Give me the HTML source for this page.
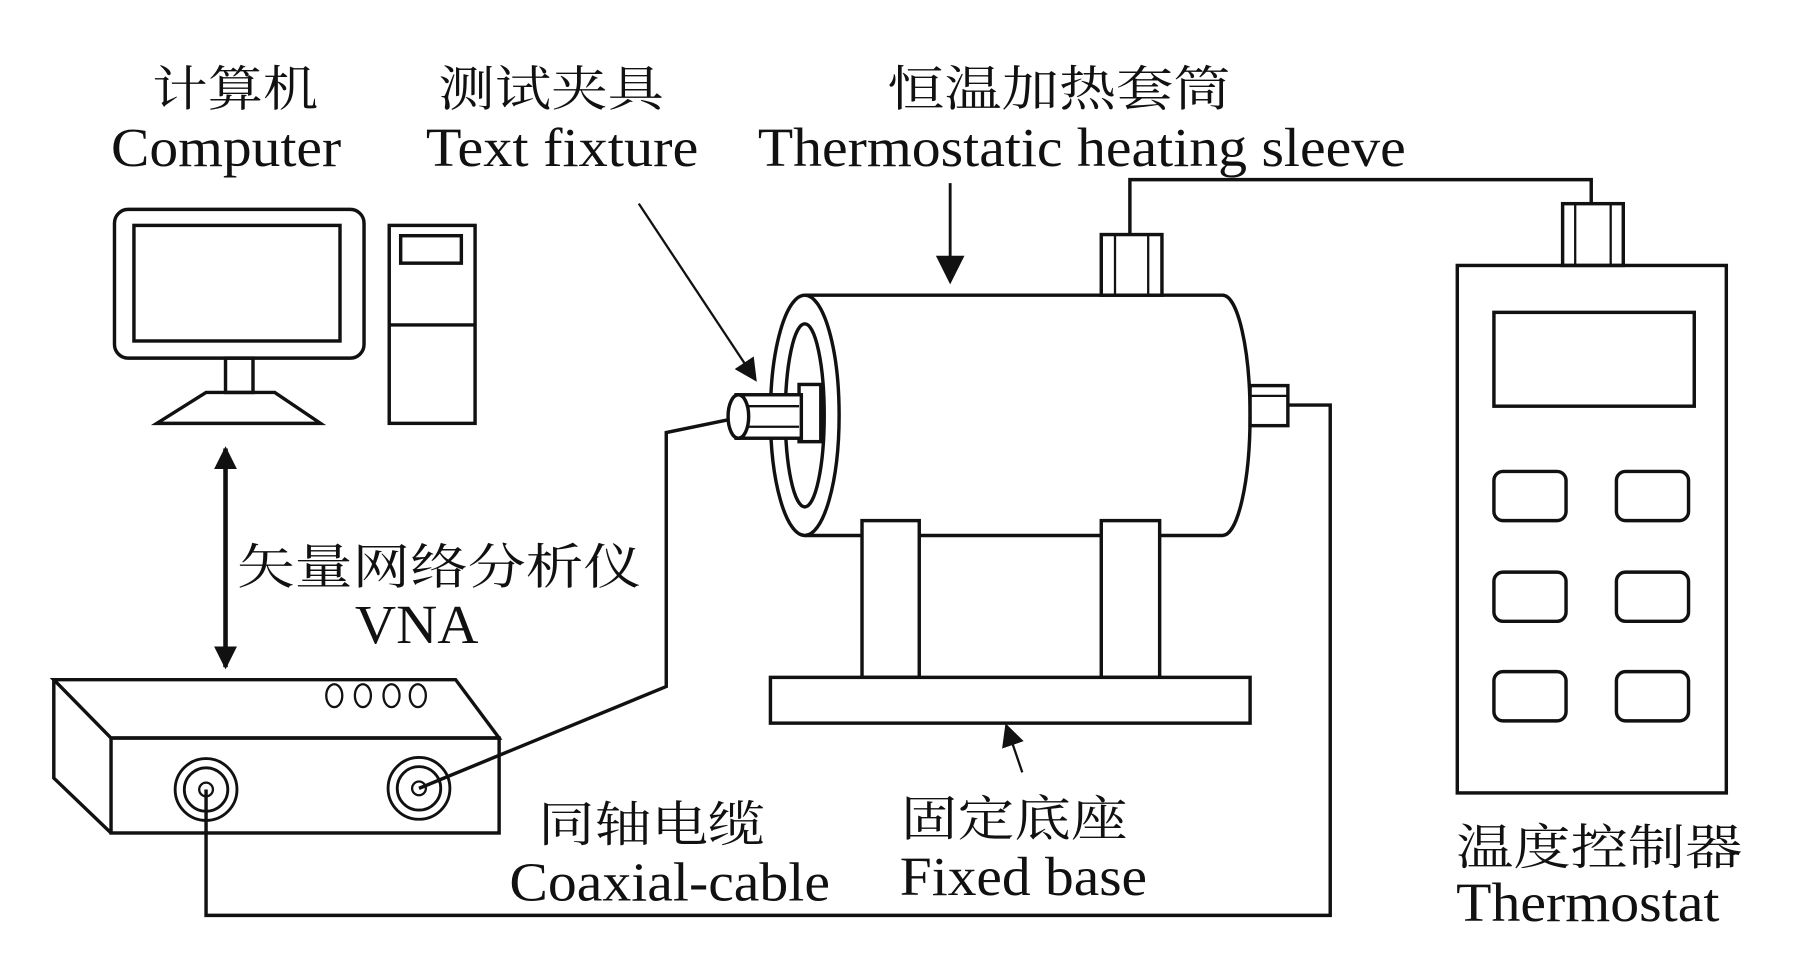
<!DOCTYPE html>
<html><head><meta charset="utf-8"><style>
html,body{margin:0;padding:0;background:#fff;}
svg{display:block;}
text{font-family:"Liberation Serif","Noto Serif CJK SC",serif;fill:#111;}
.cn{font-family:"Liberation Serif","Noto Serif CJK SC",serif;font-size:42px;}
.en{font-size:48px;}
</style></head><body>
<svg width="1795" height="968" viewBox="0 0 1568 846" preserveAspectRatio="none" xmlns="http://www.w3.org/2000/svg">
<defs>
<marker id="ah" viewBox="0 0 10 10" refX="9" refY="5" markerWidth="5" markerHeight="5" orient="auto-start-reverse"><path d="M0,0 L10,5 L0,10 z" fill="#111"/></marker>
<marker id="ah2" viewBox="0 0 10 10" refX="9" refY="5" markerWidth="10" markerHeight="10" orient="auto"><path d="M0,0 L10,5 L0,10 z" fill="#111"/></marker>
</defs>
<g fill="none" stroke="#111" stroke-width="3">
<rect x="100" y="183" width="218" height="130" rx="12"/>
<rect x="117" y="197" width="180" height="101"/>
<rect x="197" y="313" width="24" height="30"/>
<path d="M180,343 L240,343 L280,370 L137,370 Z"/>
<rect x="340" y="197" width="75" height="173"/>
<rect x="350" y="206" width="53" height="24"/>
<line x1="340" y1="284" x2="415" y2="284"/>
<line x1="197" y1="392" x2="197" y2="583" stroke-width="4" marker-start="url(#ah)" marker-end="url(#ah)"/>
<path d="M47,594 L398,594 L436,645 L97,645 Z"/>
<rect x="97" y="645" width="339" height="83"/>
<path d="M47,594 L47,680 L97,728"/>
<ellipse cx="292" cy="608" rx="7" ry="10" stroke-width="2"/>
<ellipse cx="317" cy="608" rx="7" ry="10" stroke-width="2"/>
<ellipse cx="342" cy="608" rx="7" ry="10" stroke-width="2"/>
<ellipse cx="365" cy="608" rx="7" ry="10" stroke-width="2"/>
<circle cx="180" cy="690" r="27" stroke-width="2.5"/><circle cx="180" cy="690" r="19" stroke-width="2.5"/><circle cx="180" cy="690" r="6" stroke-width="2"/>
<circle cx="366" cy="689" r="27" stroke-width="2.5"/><circle cx="366" cy="689" r="19" stroke-width="2.5"/><circle cx="366" cy="689" r="6" stroke-width="2"/>
<path d="M366,689 L582,600 L582,378 L645,365"/>
<path d="M180,690 L180,800 L1162,800 L1162,354 L1125,354"/>
<path d="M987,205 L987,157 L1390,157 L1390,178"/>
<path d="M703,258 L1068,258 A24,105 0 0 1 1068,468 L703,468"/>
<ellipse cx="703" cy="363" rx="30" ry="105" fill="#fff"/>
<ellipse cx="703" cy="363" rx="17" ry="80"/>
<rect x="698" y="336" width="19" height="50" fill="#fff"/>
<rect x="643" y="345" width="57" height="38" fill="#fff"/>
<line x1="650" y1="355" x2="698" y2="355" stroke-width="2"/>
<line x1="650" y1="373" x2="698" y2="373" stroke-width="2"/>
<ellipse cx="645" cy="364" rx="9" ry="19" fill="#fff"/>
<rect x="1092" y="337" width="33" height="35" fill="#fff"/>
<line x1="1092" y1="346" x2="1125" y2="346" stroke-width="2"/>
<rect x="962" y="205" width="53" height="53" fill="#fff"/>
<line x1="974" y1="205" x2="974" y2="258" stroke-width="2"/>
<line x1="1003" y1="205" x2="1003" y2="258" stroke-width="2"/>
<rect x="753" y="455" width="50" height="137" fill="#fff"/>
<rect x="962" y="455" width="51" height="137" fill="#fff"/>
<rect x="673" y="592" width="419" height="40" fill="#fff"/>
<rect x="1365" y="178" width="53" height="54"/>
<line x1="1376" y1="178" x2="1376" y2="232" stroke-width="2"/>
<line x1="1407" y1="178" x2="1407" y2="232" stroke-width="2"/>
<rect x="1273" y="232" width="235" height="461"/>
<rect x="1305" y="273" width="175" height="82"/>
<rect x="1305" y="412" width="63" height="43" rx="8"/><rect x="1412" y="412" width="63" height="43" rx="8"/>
<rect x="1305" y="500" width="63" height="43" rx="8"/><rect x="1412" y="500" width="63" height="43" rx="8"/>
<rect x="1305" y="587" width="63" height="43" rx="8"/><rect x="1412" y="587" width="63" height="43" rx="8"/>
<line x1="830" y1="160" x2="830" y2="246" stroke-width="2.5" marker-end="url(#ah2)"/>
<line x1="558" y1="178" x2="660" y2="332" stroke-width="2" marker-end="url(#ah2)"/>
<line x1="893" y1="675" x2="879" y2="634" stroke-width="2" marker-end="url(#ah2)"/>
</g>
<g>
<text class="cn" x="133" y="92" textLength="145" lengthAdjust="spacingAndGlyphs">计算机</text>
<text class="en" x="97" y="145" textLength="201" lengthAdjust="spacingAndGlyphs">Computer</text>
<text class="cn" x="383" y="92" textLength="197" lengthAdjust="spacingAndGlyphs">测试夹具</text>
<text class="en" x="372" y="145" textLength="238" lengthAdjust="spacingAndGlyphs">Text fixture</text>
<text class="cn" x="775" y="92" textLength="300" lengthAdjust="spacingAndGlyphs">恒温加热套筒</text>
<text class="en" x="662" y="145" textLength="566" lengthAdjust="spacingAndGlyphs">Thermostatic heating sleeve</text>
<text class="cn" x="207" y="510" textLength="353" lengthAdjust="spacingAndGlyphs">矢量网络分析仪</text>
<text class="en" x="310" y="562" textLength="108" lengthAdjust="spacingAndGlyphs">VNA</text>
<text class="cn" x="470" y="735" textLength="198" lengthAdjust="spacingAndGlyphs">同轴电缆</text>
<text class="en" x="445" y="787" textLength="280" lengthAdjust="spacingAndGlyphs">Coaxial-cable</text>
<text class="cn" x="787" y="730" textLength="198" lengthAdjust="spacingAndGlyphs">固定底座</text>
<text class="en" x="786" y="782" textLength="216" lengthAdjust="spacingAndGlyphs">Fixed base</text>
<text class="cn" x="1272" y="755" textLength="250" lengthAdjust="spacingAndGlyphs">温度控制器</text>
<text class="en" x="1272" y="805" textLength="230" lengthAdjust="spacingAndGlyphs">Thermostat</text>
</g>
</svg>
</body></html>
